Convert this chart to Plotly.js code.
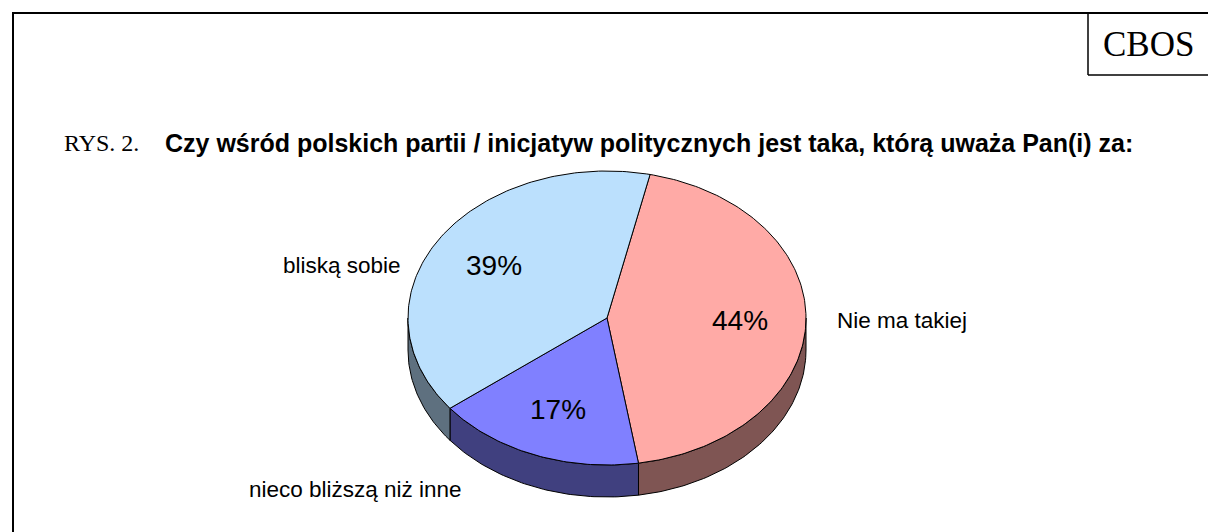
<!DOCTYPE html>
<html>
<head>
<meta charset="utf-8">
<script src="https://cdn.plot.ly/plotly-3.0.1.min.js"></script>
<style>
html,body{margin:0;padding:0;background:#fff;}
#chart{width:1208px;height:532px;}
</style>
</head>
<body>
<div id="chart"></div>
<script>
// ---- data ----
var categories = ["Nie ma takiej", "nieco bliższą niż inne", "bliską sobie"];
var values = [44, 17, 39];
var valueLabels = ["44%", "17%", "39%"];
var topColors = ["#FFAAA6", "#8080FF", "#BBE0FD"];
var wallColors = ["#7F5553", "#40407F", "#5E707F"];

// ---- layout geometry (pixels) ----
var W = 1208, H = 532;
var cx = 607, cy = 318, rx = 199, ry = 147, depth = 32;
var startDeg = 12.5;            // first slice starts clockwise from top
var labelR = 0.67;

function pt(tDeg, dy) {
  var t = tDeg * Math.PI / 180;
  return [cx + rx * Math.sin(t), cy - ry * Math.cos(t) + (dy || 0)];
}
function arc(a, b, dy) {
  var n = Math.max(2, Math.ceil(Math.abs(b - a) / 1));
  var xs = [], ys = [];
  for (var i = 0; i <= n; i++) {
    var p = pt(a + (b - a) * i / n, dy);
    xs.push(p[0]); ys.push(p[1]);
  }
  return [xs, ys];
}

var total = values.reduce(function (s, v) { return s + v; }, 0);
var spans = [];
var acc = startDeg;
values.forEach(function (v) {
  var d = v / total * 360;
  spans.push([acc, acc + d]);
  acc += d;
});

var traces = [];
// side walls (visible front part: 90..270 deg)
spans.forEach(function (s, i) {
  [0, 360, -360].forEach(function (shift) {
    var a = Math.max(s[0], 90 + shift), b = Math.min(s[1], 270 + shift);
    if (b > a) {
      var top = arc(a, b, 0), bot = arc(b, a, depth);
      traces.push({
        type: "scatter", mode: "lines", fill: "toself",
        x: top[0].concat(bot[0]).concat([top[0][0]]),
        y: top[1].concat(bot[1]).concat([top[1][0]]),
        fillcolor: wallColors[i], line: {color: "#000", width: 1},
        hoverinfo: "skip", showlegend: false
      });
    }
  });
});
// top faces
spans.forEach(function (s, i) {
  var a = arc(s[0], s[1], 0);
  traces.push({
    type: "scatter", mode: "lines", fill: "toself",
    x: [cx].concat(a[0]).concat([cx]),
    y: [cy].concat(a[1]).concat([cy]),
    fillcolor: topColors[i], line: {color: "#000", width: 1},
    name: categories[i], text: valueLabels[i], hoverinfo: "name+text",
    showlegend: false
  });
});

var annotations = [];
spans.forEach(function (s, i) {
  var mid = (s[0] + s[1]) / 2, t = mid * Math.PI / 180;
  annotations.push({
    x: cx + labelR * rx * Math.sin(t), y: cy - labelR * ry * Math.cos(t),
    xref: "x", yref: "y", text: valueLabels[i], showarrow: false,
    font: {family: "Liberation Sans, Arial, sans-serif", size: 28, color: "#000"},
    xanchor: "center", yanchor: "middle"
  });
});
// category labels (outside positions)
var catPos = [[835, 320, "left"], [247, 489, "left"], [403, 265, "right"]];
categories.forEach(function (c, i) {
  annotations.push({
    x: catPos[i][0], y: catPos[i][1], xref: "x", yref: "y", text: c, showarrow: false,
    font: {family: "Liberation Sans, Arial, sans-serif", size: 22.5, color: "#000"},
    xanchor: catPos[i][2], yanchor: "middle"
  });
});
// header texts
annotations.push({
  x: 62, y: 143, xref: "x", yref: "y", showarrow: false, xanchor: "left", yanchor: "middle",
  text: "RYS. 2.", font: {family: "Liberation Serif, Times New Roman, serif", size: 24, color: "#000"}
});
annotations.push({
  x: 163, y: 143, xref: "x", yref: "y", showarrow: false, xanchor: "left", yanchor: "middle",
  text: "<b>Czy wśród polskich partii / inicjatyw politycznych jest taka, którą uważa Pan(i) za:</b>",
  font: {family: "Liberation Sans, Arial, sans-serif", size: 25, color: "#000"}
});
annotations.push({
  x: 1148, y: 44, xref: "x", yref: "y", showarrow: false, xanchor: "center", yanchor: "middle",
  text: "CBOS", font: {family: "Liberation Serif, Times New Roman, serif", size: 35, color: "#000"}
});

var shapes = [
  {type: "line", xref: "x", yref: "y", x0: 12, y0: 13, x1: W + 5, y1: 13, line: {color: "#000", width: 2}},
  {type: "line", xref: "x", yref: "y", x0: 13, y0: 12, x1: 13, y1: H + 5, line: {color: "#000", width: 2}},
  {type: "line", xref: "x", yref: "y", x0: 1088, y0: 12, x1: 1088, y1: 75, line: {color: "#000", width: 1.5}},
  {type: "line", xref: "x", yref: "y", x0: 1088, y0: 75, x1: W + 5, y1: 75, line: {color: "#000", width: 1.5}}
];

var layout = {
  width: W, height: H,
  margin: {l: 0, r: 0, t: 0, b: 0},
  paper_bgcolor: "#fff", plot_bgcolor: "#fff",
  xaxis: {range: [0, W], visible: false, fixedrange: true},
  yaxis: {range: [H, 0], visible: false, fixedrange: true},
  annotations: annotations, shapes: shapes, showlegend: false
};
Plotly.newPlot("chart", traces, layout, {displayModeBar: false, staticPlot: true});
</script>
</body>
</html>
